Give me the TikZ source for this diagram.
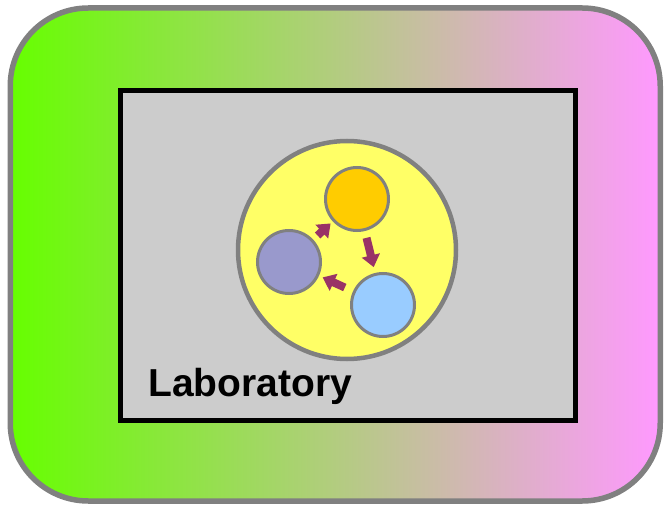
\documentclass[tikz,border=0pt]{standalone}
\usepackage{fontspec}
\setmainfont{Liberation Sans}
\usetikzlibrary{arrows.meta}
\definecolor{framegray}{HTML}{808080}
\definecolor{leftgreen}{HTML}{66FF00}
\definecolor{rightpink}{HTML}{FF99FF}
\definecolor{labgray}{HTML}{CCCCCC}
\definecolor{cellyellow}{HTML}{FFFF66}
\definecolor{amber}{HTML}{FFCC00}
\definecolor{lavender}{HTML}{9999CC}
\definecolor{skyblue}{HTML}{99CCFF}
\definecolor{flowplum}{HTML}{993366}
\tikzset{
  envbox/.style={rectangle, rounded corners=78pt, draw=framegray, line width=5.5pt,
    left color=leftgreen, right color=rightpink, inner sep=0pt,
    minimum width=650pt, minimum height=493pt},
  labbox/.style={rectangle, draw=black, line width=5pt, fill=labgray, inner sep=0pt,
    minimum width=455pt, minimum height=330pt},
  cellring/.style={circle, draw=framegray, line width=4.5pt, fill=cellyellow, inner sep=0pt,
    minimum size=218pt},
  member/.style={circle, draw=framegray, line width=3pt, inner sep=0pt, minimum size=63pt},
  flow/.style={draw=flowplum, line width=8pt,
    -{Triangle[width=18pt,length=12pt]}}
}
\begin{document}
\begin{tikzpicture}[x=1pt,y=-1pt]
  \useasboundingbox (0,0) rectangle (665,508);
  % environment and laboratory frames
  \node[envbox] (env) at (335.25,254.5) {};
  \node[labbox] (lab) at (348.25,255.5) {};
  % the cell and its three members
  \node[cellring] (cell) at (347,250) {};
  \node[member, fill=amber] (top) at (357,199) {};
  \node[member, fill=skyblue] (right) at (383,305) {};
  \node[member, fill=lavender] (left) at (289,262) {};
  % cyclic flow between members
  \draw[flow, shorten <=7pt, shorten >=6pt] (top) -- (right);
  \draw[flow, shorten <=9pt, shorten >=4pt] (right) -- (left);
  \draw[flow, shorten <=6pt, shorten >=3pt] (left) -- (top);
  % label
  \node[anchor=base west, inner sep=0pt, font=\bfseries\fontsize{39pt}{44pt}\selectfont]
    (label) at (148,396) {Laboratory};
\end{tikzpicture}
\end{document}
